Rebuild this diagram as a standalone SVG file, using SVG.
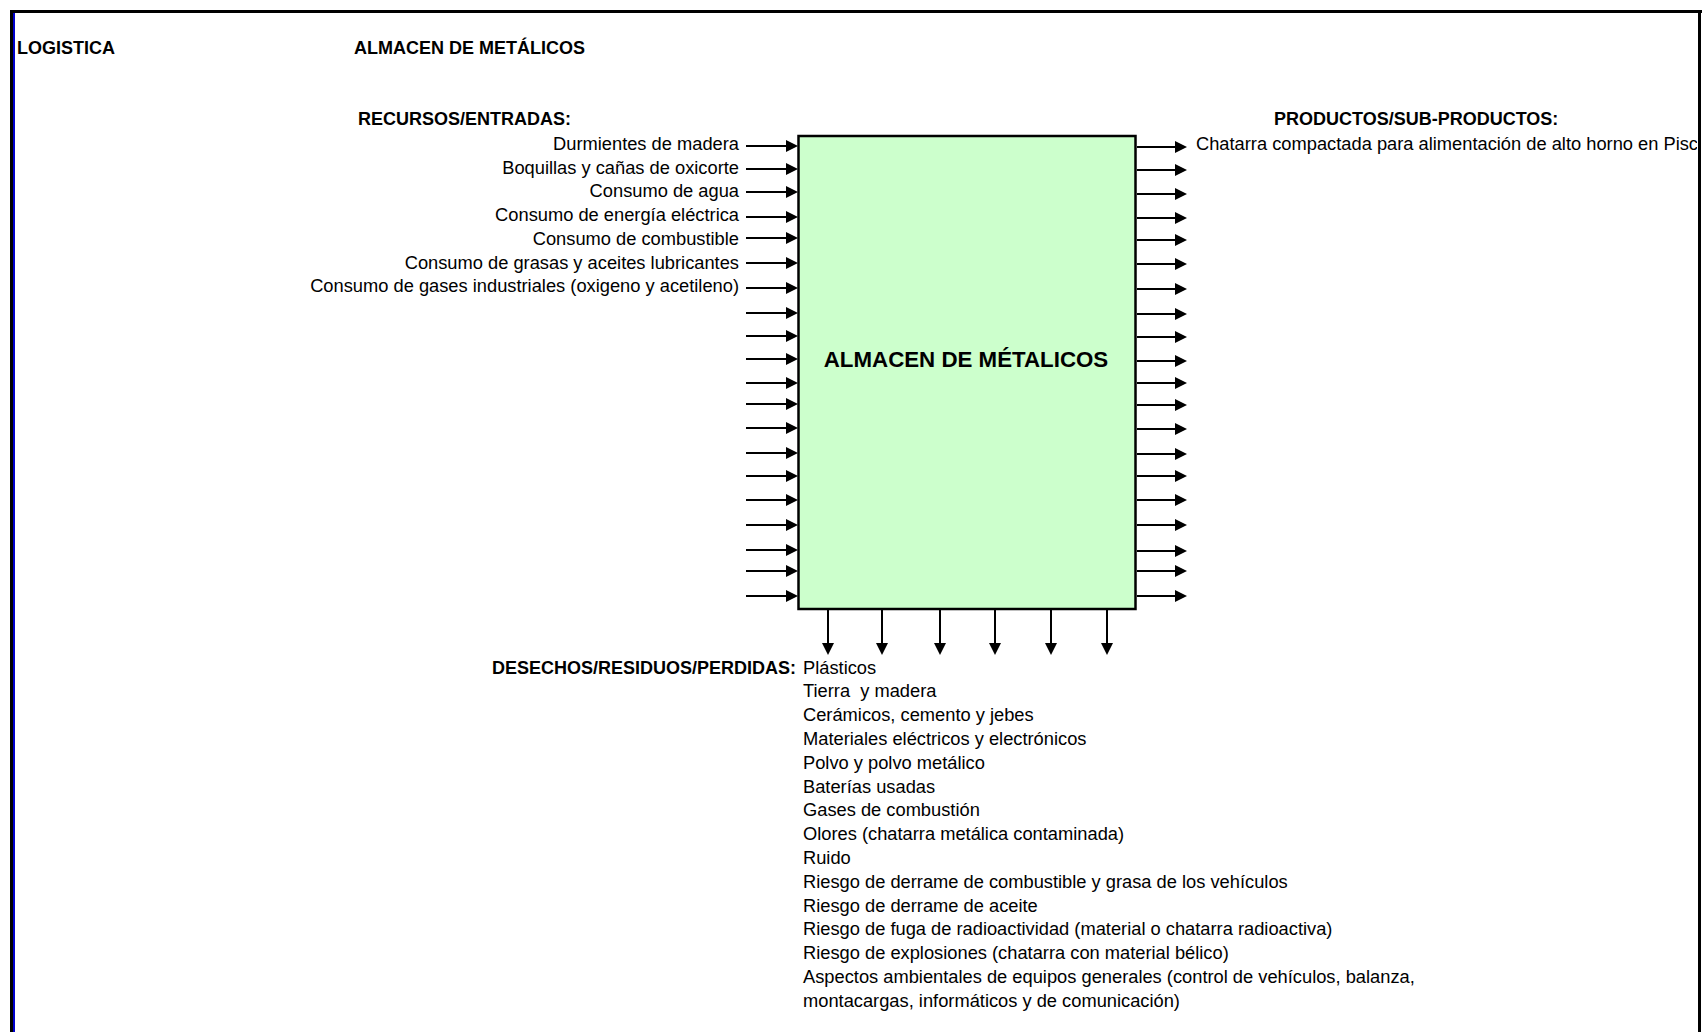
<svg xmlns="http://www.w3.org/2000/svg" width="1702" height="1032" viewBox="0 0 1702 1032">
<style>
text{font-family:"Liberation Sans",Arial,sans-serif;font-size:18.3px;fill:#000}
.b{font-weight:bold;font-size:18px}
.e{text-anchor:end}
.c{stroke:#000;stroke-width:2;fill:none}
</style>
<defs>
<marker id="ah" markerUnits="userSpaceOnUse" markerWidth="12" markerHeight="12" viewBox="0 0 12 12" refX="2" refY="6" orient="auto"><path d="M0,0 L12,6 L0,12 Z" fill="#000"/></marker>
<clipPath id="clipR"><rect x="0" y="0" width="1697" height="1032"/></clipPath>
</defs>
<rect width="1702" height="1032" fill="#fff"/>
<g id="frame">
<line x1="10" y1="11.5" x2="1702" y2="11.5" stroke="#000" stroke-width="3"/>
<line x1="11.5" y1="10" x2="11.5" y2="1032" stroke="#000" stroke-width="3"/>
<line x1="14" y1="13" x2="14" y2="1032" stroke="#0000cc" stroke-width="2"/>
<line x1="1699.5" y1="10" x2="1699.5" y2="1032" stroke="#000" stroke-width="3"/>
</g>
<g id="titles">
<text class="b" x="17" y="54">LOGISTICA</text>
<text class="b" x="354" y="54">ALMACEN DE METÁLICOS</text>
<text class="b" x="358" y="125">RECURSOS/ENTRADAS:</text>
<text class="b" x="1274" y="125">PRODUCTOS/SUB-PRODUCTOS:</text>
<text class="b e" x="796" y="674">DESECHOS/RESIDUOS/PERDIDAS:</text>
</g>
<g id="node-almacen">
<rect x="798.5" y="136" width="337" height="473" fill="#ccffcc" stroke="#000" stroke-width="2.5"/>
<text class="b" x="966" y="367" text-anchor="middle" style="font-size:22.3px">ALMACEN DE MÉTALICOS</text>
</g>
<g id="inputs">
<text class="e" x="739" y="150">Durmientes de madera</text>
<text class="e" x="739" y="174">Boquillas y cañas de oxicorte</text>
<text class="e" x="739" y="197">Consumo de agua</text>
<text class="e" x="739" y="221">Consumo de energía eléctrica</text>
<text class="e" x="739" y="245">Consumo de combustible</text>
<text class="e" x="739" y="269">Consumo de grasas y aceites lubricantes</text>
<text class="e" x="739" y="292">Consumo de gases industriales (oxigeno y acetileno)</text>
</g>
<g id="outputs" clip-path="url(#clipR)">
<text x="1196" y="150">Chatarra compactada para alimentación de alto horno en Pisco</text>
</g>
<g id="wastes">
<text x="803" y="674">Plásticos</text>
<text x="803" y="697" style="white-space:pre">Tierra  y madera</text>
<text x="803" y="721">Cerámicos, cemento y jebes</text>
<text x="803" y="745">Materiales eléctricos y electrónicos</text>
<text x="803" y="769">Polvo y polvo metálico</text>
<text x="803" y="793">Baterías usadas</text>
<text x="803" y="816">Gases de combustión</text>
<text x="803" y="840">Olores (chatarra metálica contaminada)</text>
<text x="803" y="864">Ruido</text>
<text x="803" y="888">Riesgo de derrame de combustible y grasa de los vehículos</text>
<text x="803" y="912">Riesgo de derrame de aceite</text>
<text x="803" y="935">Riesgo de fuga de radioactividad (material o chatarra radioactiva)</text>
<text x="803" y="959">Riesgo de explosiones (chatarra con material bélico)</text>
<text x="803" y="983">Aspectos ambientales de equipos generales (control de vehículos, balanza,</text>
<text x="803" y="1007">montacargas, informáticos y de comunicación)</text>
</g>
<g id="connectors">
<path class="c" marker-end="url(#ah)" d="M746,146H788"/>
<path class="c" marker-end="url(#ah)" d="M746,169H788"/>
<path class="c" marker-end="url(#ah)" d="M746,192H788"/>
<path class="c" marker-end="url(#ah)" d="M746,217H788"/>
<path class="c" marker-end="url(#ah)" d="M746,238H788"/>
<path class="c" marker-end="url(#ah)" d="M746,263H788"/>
<path class="c" marker-end="url(#ah)" d="M746,288H788"/>
<path class="c" marker-end="url(#ah)" d="M746,313H788"/>
<path class="c" marker-end="url(#ah)" d="M746,336H788"/>
<path class="c" marker-end="url(#ah)" d="M746,359H788"/>
<path class="c" marker-end="url(#ah)" d="M746,383H788"/>
<path class="c" marker-end="url(#ah)" d="M746,404H788"/>
<path class="c" marker-end="url(#ah)" d="M746,428H788"/>
<path class="c" marker-end="url(#ah)" d="M746,453H788"/>
<path class="c" marker-end="url(#ah)" d="M746,476H788"/>
<path class="c" marker-end="url(#ah)" d="M746,500H788"/>
<path class="c" marker-end="url(#ah)" d="M746,525H788"/>
<path class="c" marker-end="url(#ah)" d="M746,550H788"/>
<path class="c" marker-end="url(#ah)" d="M746,571H788"/>
<path class="c" marker-end="url(#ah)" d="M746,596H788"/>
<path class="c" marker-end="url(#ah)" d="M1137,147H1177"/>
<path class="c" marker-end="url(#ah)" d="M1137,170H1177"/>
<path class="c" marker-end="url(#ah)" d="M1137,194H1177"/>
<path class="c" marker-end="url(#ah)" d="M1137,218H1177"/>
<path class="c" marker-end="url(#ah)" d="M1137,240H1177"/>
<path class="c" marker-end="url(#ah)" d="M1137,264H1177"/>
<path class="c" marker-end="url(#ah)" d="M1137,289H1177"/>
<path class="c" marker-end="url(#ah)" d="M1137,314H1177"/>
<path class="c" marker-end="url(#ah)" d="M1137,337H1177"/>
<path class="c" marker-end="url(#ah)" d="M1137,361H1177"/>
<path class="c" marker-end="url(#ah)" d="M1137,383H1177"/>
<path class="c" marker-end="url(#ah)" d="M1137,405H1177"/>
<path class="c" marker-end="url(#ah)" d="M1137,429H1177"/>
<path class="c" marker-end="url(#ah)" d="M1137,454H1177"/>
<path class="c" marker-end="url(#ah)" d="M1137,476H1177"/>
<path class="c" marker-end="url(#ah)" d="M1137,500H1177"/>
<path class="c" marker-end="url(#ah)" d="M1137,525H1177"/>
<path class="c" marker-end="url(#ah)" d="M1137,551H1177"/>
<path class="c" marker-end="url(#ah)" d="M1137,571H1177"/>
<path class="c" marker-end="url(#ah)" d="M1137,596H1177"/>
<path class="c" marker-end="url(#ah)" d="M828,610V645"/>
<path class="c" marker-end="url(#ah)" d="M882,610V645"/>
<path class="c" marker-end="url(#ah)" d="M940,610V645"/>
<path class="c" marker-end="url(#ah)" d="M995,610V645"/>
<path class="c" marker-end="url(#ah)" d="M1051,610V645"/>
<path class="c" marker-end="url(#ah)" d="M1107,610V645"/>
</g>
</svg>
